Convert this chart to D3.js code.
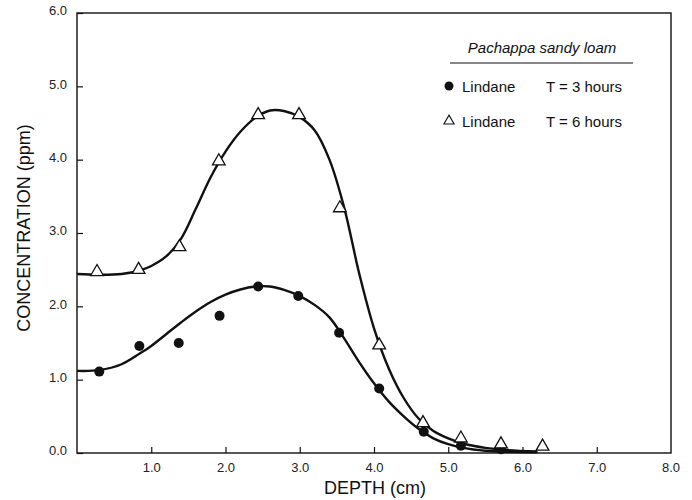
<!DOCTYPE html>
<html>
<head>
<meta charset="utf-8">
<script src="https://cdn.jsdelivr.net/npm/d3@7"></script>
<style>
  body { margin: 0; background: #fff; }
  text { font-family: "Liberation Sans", Arial, sans-serif; fill: #111; }
</style>
</head>
<body>
<div id="chart"></div>
<script>
// measured points
const depth3 = [0.30, 0.84, 1.37, 1.92, 2.44, 2.98, 3.53, 4.07, 4.67, 5.17, 5.71];
const conc3  = [1.11, 1.46, 1.50, 1.87, 2.27, 2.14, 1.64, 0.88, 0.29, 0.10, 0.05];
const depth6 = [0.27, 0.83, 1.38, 1.91, 2.44, 2.99, 3.54, 4.07, 4.66, 5.17, 5.71, 6.27];
const conc6  = [2.47, 2.50, 2.81, 3.98, 4.61, 4.61, 3.34, 1.47, 0.41, 0.20, 0.12, 0.09];

// fitted curves
const fitDepth3 = [0, 0.3, 0.6, 0.85, 1.0, 1.2, 1.4, 1.6, 1.8, 2.0, 2.2, 2.4, 2.6, 2.8, 3.0, 3.2, 3.4, 3.6, 3.8, 4.0, 4.2, 4.4, 4.6, 4.8, 5.0, 5.2, 5.5, 5.8, 6.2];
const fitConc3  = [1.12, 1.13, 1.21, 1.36, 1.46, 1.62, 1.78, 1.93, 2.06, 2.16, 2.23, 2.27, 2.27, 2.22, 2.14, 2.02, 1.85, 1.56, 1.24, 0.95, 0.70, 0.50, 0.33, 0.20, 0.12, 0.07, 0.03, 0.015, 0.01];
const fitDepth6 = [0, 0.3, 0.6, 0.85, 1.0, 1.2, 1.4, 1.6, 1.8, 2.0, 2.2, 2.4, 2.6, 2.8, 3.0, 3.2, 3.4, 3.6, 3.8, 4.0, 4.2, 4.4, 4.6, 4.8, 5.0, 5.2, 5.5, 5.8, 6.2];
const fitConc6  = [2.44, 2.43, 2.44, 2.49, 2.55, 2.68, 2.92, 3.33, 3.76, 4.11, 4.38, 4.57, 4.67, 4.66, 4.58, 4.40, 4.00, 3.34, 2.45, 1.70, 1.15, 0.75, 0.47, 0.30, 0.20, 0.13, 0.07, 0.04, 0.02];

const xTicks = [1, 2, 3, 4, 5, 6, 7, 8];
const yTicks = [0, 1, 2, 3, 4, 5, 6];
const legendTitle = "Pachappa sandy loam";
const legendRows = [["Lindane", "T = 3 hours"], ["Lindane", "T = 6 hours"]];

const W = 692, H = 500;
const svg = d3.select("#chart").append("svg").attr("width", W).attr("height", H);

const x = d3.scaleLinear().domain([0, 8]).range([77, 671]);
const y = d3.scaleLinear().domain([0, 6]).range([453, 13]);

// frame
svg.append("rect")
   .attr("x", x(0)).attr("y", y(6))
   .attr("width", x(8) - x(0)).attr("height", y(0) - y(6))
   .attr("fill", "none").attr("stroke", "#111").attr("stroke-width", 1.4);

// y axis, ticks inside
const yAxis = svg.append("g")
   .attr("transform", `translate(${x(0)},0)`)
   .call(d3.axisRight(y).tickValues(yTicks).tickSize(6).tickFormat(d3.format(".1f")));
yAxis.select(".domain").remove();
yAxis.selectAll("line").attr("stroke", "#111").attr("stroke-width", 1.2);
yAxis.selectAll("text")
     .attr("x", -10).attr("text-anchor", "end")
     .attr("font-size", "13px").attr("dy", "0.15em").style("fill", "#222");

// x axis, ticks inside
const xAxis = svg.append("g")
   .attr("transform", `translate(0,${y(0)})`)
   .call(d3.axisTop(x).tickValues(xTicks.filter(d => d < 8)).tickSize(6).tickFormat(d3.format(".1f")));
xAxis.select(".domain").remove();
xAxis.selectAll("line").attr("stroke", "#111").attr("stroke-width", 1.2);
xAxis.selectAll("text").attr("y", 19).attr("dy", "0").attr("font-size", "13px").style("fill", "#222");

svg.append("text")
   .attr("x", x(8)).attr("y", y(0) + 19)
   .attr("text-anchor", "middle").attr("font-size", "13px").style("fill", "#222")
   .text(d3.format(".1f")(xTicks[xTicks.length - 1]));

// axis titles
svg.append("text")
   .attr("x", 375).attr("y", 494)
   .attr("text-anchor", "middle").attr("font-size", "18px")
   .text("DEPTH (cm)");

svg.append("text")
   .attr("transform", "translate(30,228) rotate(-90)")
   .attr("text-anchor", "middle").attr("font-size", "18px")
   .text("CONCENTRATION (ppm)");

// fitted curves
const line = d3.line().x(d => x(d[0])).y(d => y(d[1])).curve(d3.curveCatmullRom.alpha(0.5));
[[fitDepth3, fitConc3], [fitDepth6, fitConc6]].forEach(([xs, ys]) => {
  svg.append("path")
     .datum(xs.map((d, i) => [d, ys[i]]))
     .attr("fill", "none").attr("stroke", "#111").attr("stroke-width", 2.4)
     .attr("d", line);
});

// points
svg.selectAll("circle.p3")
   .data(depth3.map((d, i) => [d, conc3[i]]))
   .enter().append("circle")
   .attr("class", "p3")
   .attr("cx", d => x(d[0])).attr("cy", d => y(d[1]))
   .attr("r", 5).attr("fill", "#111");

const tri = d3.symbol().type(d3.symbolTriangle).size(70);
svg.selectAll("path.p6")
   .data(depth6.map((d, i) => [d, conc6[i]]))
   .enter().append("path")
   .attr("class", "p6")
   .attr("d", tri)
   .attr("transform", d => `translate(${x(d[0])},${y(d[1])})`)
   .attr("fill", "#fff").attr("stroke", "#111").attr("stroke-width", 1.3);

// legend
const lg = svg.append("g");
lg.append("text")
  .attr("x", 542).attr("y", 53)
  .attr("text-anchor", "middle").attr("font-size", "15px").attr("font-style", "italic")
  .text(legendTitle);
lg.append("line")
  .attr("x1", 450).attr("x2", 633).attr("y1", 63).attr("y2", 63)
  .attr("stroke", "#111").attr("stroke-width", 1.2);

legendRows.forEach((r, i) => {
  const ly = 86 + i * 35;
  if (i === 0) {
    lg.append("circle").attr("cx", 449).attr("cy", ly).attr("r", 4.5).attr("fill", "#111");
  } else {
    lg.append("path").attr("d", d3.symbol().type(d3.symbolTriangle).size(45))
      .attr("transform", `translate(449,${ly})`)
      .attr("fill", "#fff").attr("stroke", "#111").attr("stroke-width", 1.1);
  }
  lg.append("text").attr("x", 462).attr("y", ly + 6).attr("font-size", "15px").text(r[0]);
  lg.append("text").attr("x", 546).attr("y", ly + 6).attr("font-size", "15px").text(r[1]);
});
</script>
</body>
</html>
